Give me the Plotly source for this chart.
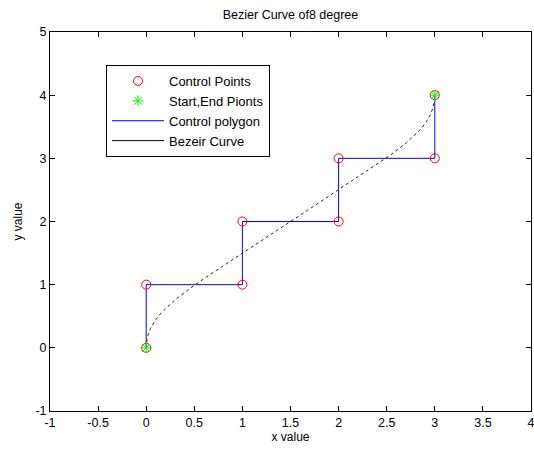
import plotly.graph_objects as go

# Control points (control polygon vertices)
ctrl_x = [0, 0, 1, 1, 2, 2, 3, 3]
ctrl_y = [0, 1, 1, 2, 2, 3, 3, 4]

# Start / end points
se_x = [0, 3]
se_y = [0, 4]

# Points along the Bezier curve
curve_x = [0.0, 0.0005, 0.0020, 0.0079, 0.0171, 0.0446, 0.0926, 0.1524, 0.2956,
           0.4570, 0.6270, 0.8004, 0.9751, 1.1500, 1.3250, 1.5000, 1.6750,
           1.8500, 2.0249, 2.1996, 2.3730, 2.5430, 2.7044, 2.8476, 2.9074,
           2.9554, 2.9829, 2.9921, 2.9980, 2.9995, 3.0]
curve_y = [0.0, 0.0345, 0.0680, 0.1321, 0.1929, 0.3054, 0.4324, 0.5476, 0.7544,
           0.9430, 1.1230, 1.2996, 1.4749, 1.6500, 1.8250, 2.0000, 2.1750,
           2.3500, 2.5251, 2.7004, 2.8770, 3.0570, 3.2456, 3.4524, 3.5674,
           3.6946, 3.8071, 3.8679, 3.9320, 3.9655, 4.0]

x_ticks = [-1, -0.5, 0, 0.5, 1, 1.5, 2, 2.5, 3, 3.5, 4]
x_tick_text = ["-1", "-0.5", "0", "0.5", "1", "1.5", "2", "2.5", "3", "3.5", "4"]
y_ticks = [-1, 0, 1, 2, 3, 4, 5]
y_tick_text = ["-1", "0", "1", "2", "3", "4", "5"]

FONT = "Liberation Sans, Arial, sans-serif"

fig = go.Figure()

# Control polygon
fig.add_trace(go.Scatter(x=ctrl_x, y=ctrl_y, mode="lines",
                         line=dict(color="#0000ff", width=1),
                         name="Control polygon", legendrank=3))
# Bezier curve (dotted look)
fig.add_trace(go.Scatter(x=curve_x, y=curve_y, mode="lines",
                         line=dict(color="#222222", width=1, dash="dot"),
                         showlegend=False))
# Legend proxy for curve
fig.add_trace(go.Scatter(x=[None], y=[None], mode="lines",
                         line=dict(color="#000000", width=1),
                         name="Bezeir Curve", legendrank=4))
# Control points
fig.add_trace(go.Scatter(x=ctrl_x, y=ctrl_y, mode="markers",
                         marker=dict(symbol="circle-open", size=9,
                                     color="#ff0000", line=dict(width=1)),
                         name="Control Points", legendrank=1))
# Start/end points
fig.add_trace(go.Scatter(x=se_x, y=se_y, mode="markers",
                         marker=dict(symbol="asterisk-open", size=9,
                                     color="#00ff00", line=dict(width=1, color="#00ff00")),
                         name="Start,End Pionts", legendrank=2))

axis_common = dict(showline=True, linecolor="black", linewidth=1, mirror="ticks",
                   ticks="inside", ticklen=5, tickcolor="black", showgrid=False,
                   zeroline=False, automargin=False, ticklabeloverflow="allow",
                   tickfont=dict(family=FONT, size=12.5, color="black"))

fig.update_layout(
    width=534, height=450,
    margin=dict(l=50, r=3, t=32, b=39),
    paper_bgcolor="white", plot_bgcolor="white",
    font=dict(family=FONT, size=12, color="black"),
    title=dict(text="Bezier Curve of8 degree", x=0.544, xanchor="center",
               y=1 - 15 / 450, yanchor="middle",
               font=dict(family=FONT, size=12.5, color="black")),
    xaxis=dict(range=[-1, 4], tickvals=x_ticks, ticktext=x_tick_text,
               title=dict(text="x value", standoff=3,
                          font=dict(family=FONT, size=12)), **axis_common),
    yaxis=dict(range=[-1, 5], tickvals=y_ticks, ticktext=y_tick_text,
               title=dict(text="y value", standoff=10,
                          font=dict(family=FONT, size=12)), **axis_common),
    legend=dict(x=0.1164, y=0.913, xanchor="left", yanchor="top",
                bgcolor="white", bordercolor="black", borderwidth=1,
                font=dict(family=FONT, size=13, color="black"),
                itemwidth=52, traceorder="normal"),
    showlegend=True,
)

fig.write_html("out.html", config={"displayModeBar": False},
               post_script="document.body.style.margin='0';document.body.style.overflow='hidden';")
